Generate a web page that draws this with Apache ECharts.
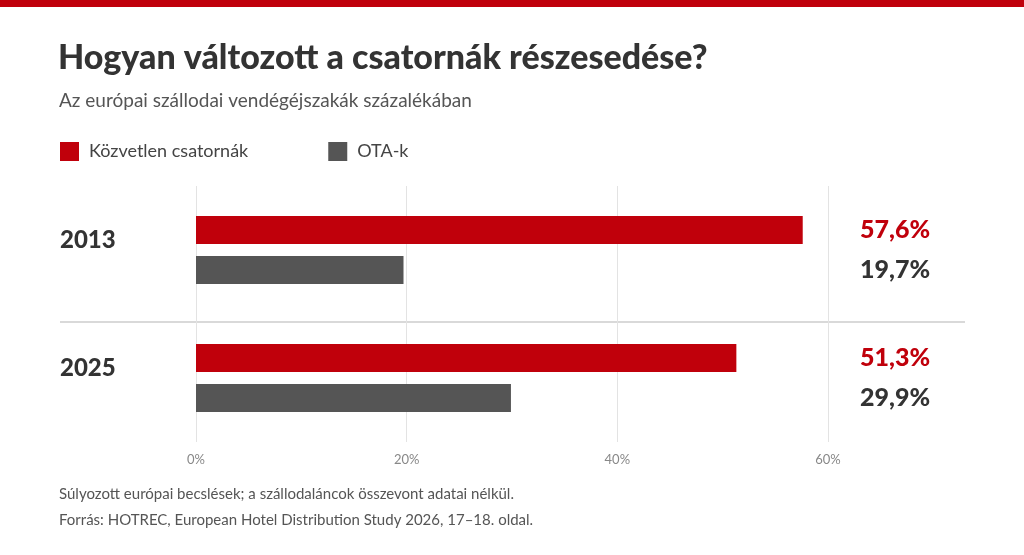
<!DOCTYPE html>
<html lang="hu">
<head>
    <meta charset="UTF-8">
    <title>Csatornák részesedése</title>
    <script src="https://cdn.jsdelivr.net/npm/echarts@6/dist/echarts.min.js"></script>
    <style>
        html,body{margin:0;padding:0;background:#fff}
        #chart{width:1024px;height:555px}
    </style>
</head>
<body>
    <div id="chart"></div>
    <script>
        // adatok
        var years=['2013','2025'];
        var direct=[57.6,51.3];
        var ota=[19.7,29.9];
        var tickValues=[0,20,40,60];

        var FONT='Lato, "Noto Sans", sans-serif';
        var RED='#c0000b';
        var GREY='#555555';

        function fmt(v){ return v.toFixed(1).replace('.',',')+'%'; }

        var mychart=echarts.init(document.getElementById('chart'));
        var option={
            backgroundColor:'#fff',
            textStyle:{fontFamily:FONT},
            title:[
                {
                    text:'Hogyan változott a csatornák részesedése?',
                    left:58,top:41,padding:0,
                    textStyle:{fontFamily:FONT,fontSize:34,fontWeight:900,color:'#333'}
                },
                {
                    text:'Az európai szállodai vendégéjszakák százalékában',
                    left:59,top:91,padding:0,
                    textStyle:{fontFamily:FONT,fontSize:19,fontWeight:'normal',color:'#555'}
                },
                {
                    text:'Súlyozott európai becslések; a szállodaláncok összevont adatai nélkül.',
                    left:59,top:487,padding:0,
                    textStyle:{fontFamily:FONT,fontSize:15,fontWeight:'normal',color:'#555'}
                },
                {
                    text:'Forrás: HOTREC, European Hotel Distribution Study 2026, 17–18. oldal.',
                    left:59,top:513,padding:0,
                    textStyle:{fontFamily:FONT,fontSize:15,fontWeight:'normal',color:'#555'}
                }
            ],
            legend:{
                left:60,top:142,padding:0,
                icon:'rect',
                itemWidth:19,itemHeight:19,
                itemGap:80,
                textStyle:{fontFamily:FONT,fontSize:18,color:'#444',padding:[0,0,0,5]},
                selectedMode:false,
                data:['Közvetlen csatornák','OTA-k']
            },
            grid:{left:196,right:196,top:186,bottom:113,containLabel:false},
            xAxis:{
                type:'value',
                min:0,max:60,interval:20,
                axisLine:{show:false},
                axisTick:{show:false},
                axisLabel:{
                    formatter:function(v){return tickValues.indexOf(v)>=0?v+'%':'';},
                    color:'#888',fontSize:13,fontFamily:FONT,margin:11
                },
                splitLine:{show:true,lineStyle:{color:'#e3e3e3',width:1}}
            },
            yAxis:[
                {
                    type:'category',
                    data:years,
                    inverse:true,
                    axisLine:{show:false},
                    axisTick:{show:false},
                    axisLabel:{
                        align:'left',margin:136,
                        formatter:function(v){ return '{y|'+v+'}\n{s|}'; },
                        rich:{
                            y:{fontSize:24,fontWeight:900,color:'#333',lineHeight:30,fontFamily:FONT},
                            s:{fontSize:10,lineHeight:20}
                        }
                    }
                },
                {
                    type:'category',
                    data:years,
                    inverse:true,
                    position:'right',
                    axisLine:{show:false},
                    axisTick:{show:false},
                    axisLabel:{
                        align:'left',margin:32,
                        formatter:function(v,i){
                            return '{r|'+fmt(direct[i])+'}\n{g|'+fmt(ota[i])+'}';
                        },
                        rich:{
                            r:{fontSize:25,fontWeight:900,color:RED,lineHeight:40,fontFamily:FONT},
                            g:{fontSize:25,fontWeight:900,color:'#333',lineHeight:40,fontFamily:FONT}
                        }
                    }
                }
            ],
            series:[
                {
                    name:'Közvetlen csatornák',
                    type:'bar',
                    data:direct,
                    barWidth:28,
                    barGap:'43%',
                    itemStyle:{color:RED},
                    silent:true
                },
                {
                    name:'OTA-k',
                    type:'bar',
                    data:ota,
                    barWidth:28,
                    itemStyle:{color:GREY},
                    silent:true
                }
            ],
            graphic:[
                {type:'rect',left:0,top:0,shape:{width:1024,height:7},style:{fill:RED},silent:true},
                {type:'line',shape:{x1:60,y1:322,x2:965,y2:322},style:{stroke:'#d9d9d9',lineWidth:2},silent:true}
            ]
        };
        mychart.setOption(option);
    </script>
</body>
</html>
